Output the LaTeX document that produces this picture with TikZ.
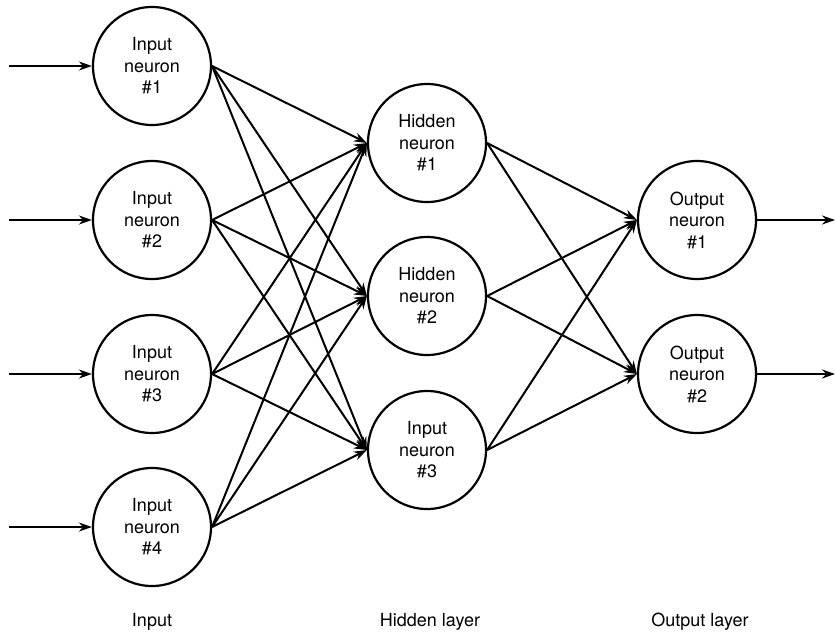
\documentclass[tikz,border=0pt]{standalone}
\usepackage{fontspec}
\setmainfont{TeX Gyre Heros}
\usetikzlibrary{arrows.meta}
\begin{document}
\begin{tikzpicture}[x=1pt,y=-1pt,
  neuron/.style={circle,draw,line width=2.2pt,minimum size=118pt,inner sep=0pt,align=center,
    font=\fontsize{18}{21.5}\selectfont},
  conn/.style={line width=2pt,-{Stealth[length=13pt,width=9pt]}},
  layerlabel/.style={font=\fontsize{18}{21}\selectfont}]
\useasboundingbox (0,0) rectangle (835,635);
\node[neuron] (i1) at (152,66) {Input\\neuron\\\#1};
\node[neuron] (i2) at (152,220) {Input\\neuron\\\#2};
\node[neuron] (i3) at (152,374) {Input\\neuron\\\#3};
\node[neuron] (i4) at (152,527) {Input\\neuron\\\#4};
\node[neuron] (h1) at (427,143) {Hidden\\neuron\\\#1};
\node[neuron] (h2) at (427,296) {Hidden\\neuron\\\#2};
\node[neuron] (h3) at (427,450) {Input\\neuron\\\#3};
\node[neuron] (o1) at (697,220) {Output\\neuron\\\#1};
\node[neuron] (o2) at (697,374) {Output\\neuron\\\#2};
\coordinate (s1) at (9,66);
\coordinate (s2) at (9,220);
\coordinate (s3) at (9,374);
\coordinate (s4) at (9,527);
\coordinate (e1) at (835,220);
\coordinate (e2) at (835,374);
\foreach \k in {1,2,3,4} {\draw[conn] (s\k) -- (i\k.west);}
\foreach \a in {1,2,3,4} {\foreach \b in {1,2,3} {\draw[conn] (i\a.east) -- (h\b.west);}}
\foreach \a in {1,2,3} {\foreach \b in {1,2} {\draw[conn] (h\a.east) -- (o\b.west);}}
\draw[conn] (o1.east) -- (e1);
\draw[conn] (o2.east) -- (e2);
\node[layerlabel] (l1) at (152,622) {Input};
\node[layerlabel] (l2) at (430,622) {Hidden layer};
\node[layerlabel] (l3) at (700,622) {Output layer};
\end{tikzpicture}
\end{document}
